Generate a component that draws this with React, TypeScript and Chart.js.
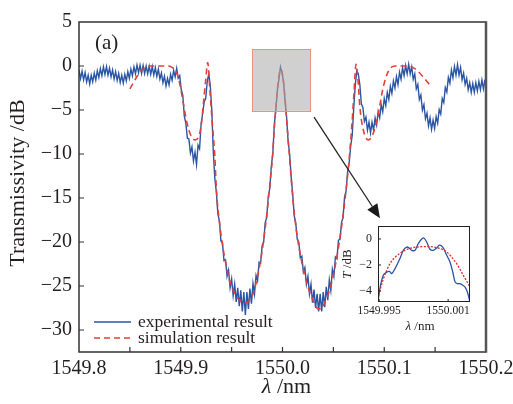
import React, { useEffect, useRef } from "react";
import { Chart, registerables } from "chart.js";

Chart.register(...registerables);

// ---------- data ----------
const expStart = 1549.8;
const expStep = 0.0015;
const experimental = [
  -0.45, -1.43, -0.6, -1.58, -0.75, -1.8, -1.05, -2.03, -1.05, -1.8, -0.8, -1.6,
  -0.55, -1.3, -0.3, -1.1, -0.1, -0.96, -0.07, -1.04, -0.25, -1.23, -0.45, -1.48,
  -0.65, -1.63, -0.85, -1.88, -1.05, -1.95, -0.95, -1.7, -0.65, -1.4, -0.35, -1.1,
  -0.1, -0.89, 0.1, -0.76, 0.1, -0.84, 0.05, -0.86, 0.0, -0.9, -0.03, -0.95,
  -0.05, -1.03, -0.2, -1.18, -0.35, -1.48, -0.8, -1.9, -1.15, -2.28, -1.4, -2.15,
  -0.95, -1.63, -0.5, -1.23, -0.25, -1.38, -1.1, -2.7, -3.3, -5.7, -6.5, -8.2,
  -8.3, -9.9, -9.2, -10.8, -9.8, -11.2, -9.0, -9.4, -6.6, -5.4, -4.1, -3.7,
  -1.8, -0.9, -2.2, -5.0, -9.8, -12.8, -14.3, -16.8, -17.6, -19.9, -20.1, -22.1,
  -22.0, -23.9, -23.2, -25.2, -24.2, -26.1, -24.8, -26.8, -25.2, -27.3, -25.5, -27.9,
  -25.7, -28.3, -25.7, -27.6, -25.3, -27.0, -24.7, -25.9, -23.8, -24.4, -22.3, -22.4,
  -20.4, -20.0, -17.8, -17.2, -14.8, -13.9, -11.4, -9.9, -6.6, -4.9, -2.7, -1.5,
  -0.1, -0.75, -1.8, -3.9, -5.8, -8.5, -10.0, -12.6, -14.5, -17.0, -17.8, -19.7,
  -20.0, -21.8, -21.6, -23.4, -22.9, -24.8, -23.9, -25.9, -24.8, -26.9, -25.4, -27.5,
  -25.9, -27.9, -25.9, -27.9, -25.7, -27.4, -25.1, -26.6, -24.3, -25.5, -23.1, -23.9,
  -21.7, -21.9, -19.8, -19.7, -17.8, -17.2, -14.9, -14.2, -12.0, -11.0, -9.1, -7.9,
  -4.8, -2.2, -0.5, -0.9, -2.1, -4.3, -4.7, -6.3, -5.8, -7.3, -6.4, -7.6,
  -6.4, -7.3, -5.9, -6.7, -5.2, -5.9, -4.4, -5.2, -3.7, -4.5, -3.0, -3.8,
  -2.3, -3.1, -1.7, -2.5, -1.2, -2.1, -0.7, -1.5, -0.2, -1.1, 0.05, -0.9,
  0.2, -0.9, -0.1, -1.5, -0.9, -2.6, -2.1, -3.8, -3.3, -5.0, -4.4, -6.0,
  -5.35, -6.8, -5.9, -7.2, -6.15, -7.1, -5.75, -6.5, -4.95, -5.45, -3.7, -4.15,
  -2.45, -2.95, -1.3, -1.95, -0.45, -1.33, -0.05, -1.03, 0.15, -1.03, -0.15, -1.55,
  -0.8, -2.1, -1.4, -2.7, -1.9, -3.0, -2.0, -2.98, -1.9, -2.83, -1.75, -2.68,
  -1.6, -2.6, -1.55,
];

const simX = [
  1549.85, 1549.854, 1549.858, 1549.862, 1549.866, 1549.87, 1549.88, 1549.888,
  1549.892, 1549.896, 1549.899, 1549.902, 1549.906, 1549.91, 1549.914, 1549.917,
  1549.92, 1549.922, 1549.9245, 1549.9265, 1549.9285, 1549.931, 1549.9335, 1549.935,
  1549.9386, 1549.9435, 1549.948, 1549.952, 1549.956, 1549.962, 1549.966, 1549.97,
  1549.974, 1549.978, 1549.981, 1549.985, 1549.988, 1549.99, 1549.992, 1549.994,
  1549.996, 1549.998, 1550.0, 1550.002, 1550.004, 1550.007, 1550.0106, 1550.014,
  1550.019, 1550.024, 1550.03, 1550.035, 1550.038, 1550.041, 1550.0467, 1550.053,
  1550.058, 1550.0614, 1550.0647, 1550.068, 1550.0703, 1550.0722, 1550.0745, 1550.076,
  1550.0795, 1550.0843, 1550.089, 1550.0942, 1550.099, 1550.104, 1550.1106, 1550.122,
  1550.13, 1550.138, 1550.1465,
];
const simY = [
  -2.6, -1.8, -1.0, -0.4, -0.1, 0.0, 0.0, 0.0,
  -0.2, -0.8, -2.0, -3.9, -6.4, -7.9, -8.4, -8.2,
  -6.8, -4.6, -1.6, 0.4, -2.5, -6.5, -10.3, -14.0,
  -18.3, -22.0, -24.4, -25.6, -26.4, -26.9, -26.8, -26.2,
  -24.7, -22.4, -20.2, -16.4, -13.0, -10.6, -7.0, -4.0,
  -1.6, -0.4, -0.9, -3.0, -6.0, -10.5, -15.6, -19.0,
  -22.3, -24.7, -26.6, -27.6, -27.6, -27.0, -25.3, -22.0,
  -18.3, -15.2, -11.6, -7.0, -3.0, 0.2, -2.0, -4.6,
  -7.3, -8.4, -7.7, -5.4, -2.4, -0.6, 0.0, 0.0,
  -0.3, -1.2, -2.4,
];

const insetExpX = [
  1549.9949, 1549.99507, 1549.99536, 1549.99566, 1549.9959, 1549.99609, 1549.99638,
  1549.99681, 1549.9971, 1549.9974, 1549.99762, 1549.99783, 1549.99812, 1549.9984,
  1549.99884, 1549.99913, 1549.99942, 1549.99971, 1550.0, 1550.00023, 1550.00053,
  1550.00081, 1550.00116, 1550.0014, 1550.0016, 1550.0018, 1550.00203, 1550.00227,
  1550.00247, 1550.00267, 1550.0029,
];
const insetExpY = [
  -4.85, -3.8, -2.8, -2.55, -2.5, -2.67, -2.28,
  -1.5, -0.87, -0.62, -0.7, -0.87, -0.87, -0.36,
  0.08, -0.23, -0.79, -0.87, -0.7, -0.48, -0.62,
  -1.13, -1.77, -2.54, -3.3, -3.44, -3.44, -3.56,
  -3.7, -4.08, -4.85,
];
const insetSimX = [
  1549.99487, 1549.99536, 1549.99594, 1549.99681, 1549.99768, 1549.99855,
  1549.99928, 1550.0, 1550.00087, 1550.00174, 1550.00232, 1550.0029,
];
const insetSimY = [-4.6, -3.1, -1.9, -1.1, -0.72, -0.6, -0.58, -0.66, -1.0, -1.9, -2.8, -3.7];

const xTicks = [1549.8, 1549.9, 1550.0, 1550.1, 1550.2];
const xMinorTicks = [1549.85, 1549.95, 1550.05, 1550.15];
const yTicks = [-30, -25, -20, -15, -10, -5, 0, 5];
const insetXTicks = [1549.995, 1550.001];
const insetYTicks = [-4, -2, 0];
const zoomBoxX = [1549.97, 1550.027];
const zoomBoxY = [-5.1, 1.9];
const arrowFrom = [1550.031, -5.8];
const arrowTo = [1550.0958, -17.3];

const seriesLabels = ["experimental result", "simulation result"];

// ---------- style ----------
const FONT = "'Liberation Serif', 'Times New Roman', serif";
const TEXT = "#231f20";
const BLUE = "#2a56a6";
const RED = "#e3403a";

function minusFmt(v: number, digits?: number) {
  const s = digits != null ? Math.abs(v).toFixed(digits) : String(Math.abs(v));
  return v < 0 ? "\u2212" + s : s;
}

const mainDecor = {
  id: "mainDecor",
  afterDatasetsDraw(chart: any) {
    const { ctx, chartArea: a, scales } = chart;
    const xs = scales.x;
    const ys = scales.y;
    ctx.save();
    // zoom box
    const rx0 = xs.getPixelForValue(zoomBoxX[0]);
    const rx1 = xs.getPixelForValue(zoomBoxX[1]);
    const ry0 = ys.getPixelForValue(zoomBoxY[1]);
    const ry1 = ys.getPixelForValue(zoomBoxY[0]);
    ctx.fillStyle = "rgba(170,170,170,0.55)";
    ctx.fillRect(rx0, ry0, rx1 - rx0, ry1 - ry0);
    ctx.strokeStyle = "#e8937f";
    ctx.lineWidth = 1;
    ctx.strokeRect(Math.round(rx0) + 0.5, Math.round(ry0) + 0.5, Math.round(rx1 - rx0), Math.round(ry1 - ry0));

    // arrow
    const ax0 = xs.getPixelForValue(arrowFrom[0]);
    const ay0 = ys.getPixelForValue(arrowFrom[1]);
    const ax1 = xs.getPixelForValue(arrowTo[0]);
    const ay1 = ys.getPixelForValue(arrowTo[1]);
    const ang = Math.atan2(ay1 - ay0, ax1 - ax0);
    const headLen = 14;
    const headW = 6;
    const bx = ax1 - headLen * Math.cos(ang);
    const by = ay1 - headLen * Math.sin(ang);
    ctx.strokeStyle = "#222";
    ctx.lineWidth = 1.3;
    ctx.beginPath();
    ctx.moveTo(ax0, ay0);
    ctx.lineTo(bx, by);
    ctx.stroke();
    ctx.fillStyle = "#1a1a1a";
    ctx.beginPath();
    ctx.moveTo(ax1, ay1);
    ctx.lineTo(bx + headW * Math.sin(ang), by - headW * Math.cos(ang));
    ctx.lineTo(bx - headW * Math.sin(ang), by + headW * Math.cos(ang));
    ctx.closePath();
    ctx.fill();

    // frame
    ctx.strokeStyle = "#333";
    ctx.lineWidth = 1.5;
    ctx.beginPath();
    ctx.moveTo(a.right, a.top);
    ctx.lineTo(a.left, a.top);
    ctx.lineTo(a.left, a.bottom);
    ctx.lineTo(a.right, a.bottom);
    ctx.stroke();
    ctx.strokeStyle = "#555";
    ctx.lineWidth = 2.5;
    ctx.beginPath();
    ctx.moveTo(a.right, a.top - 0.75);
    ctx.lineTo(a.right, a.bottom + 0.75);
    ctx.stroke();

    // inward ticks
    ctx.strokeStyle = "#333";
    ctx.lineWidth = 1.2;
    ctx.beginPath();
    [...xTicks, ...xMinorTicks].forEach((v) => {
      const px = xs.getPixelForValue(v);
      if (px <= a.left + 1 || px >= a.right - 1) return;
      ctx.moveTo(px, a.bottom);
      ctx.lineTo(px, a.bottom - 5);
    });
    yTicks.forEach((v) => {
      const py = ys.getPixelForValue(v);
      if (py <= a.top + 1 || py >= a.bottom - 1) return;
      ctx.moveTo(a.left, py);
      ctx.lineTo(a.left + 5, py);
    });
    ctx.stroke();

    // panel label
    ctx.fillStyle = TEXT;
    ctx.font = `21px ${FONT}`;
    ctx.textAlign = "left";
    ctx.textBaseline = "middle";
    ctx.fillText("(a)", a.left + 16, a.top + 21);

    // y title
    ctx.save();
    ctx.translate(a.left - 61, (a.top + a.bottom) / 2 - 4);
    ctx.rotate(-Math.PI / 2);
    ctx.textAlign = "center";
    ctx.textBaseline = "middle";
    ctx.font = `22px ${FONT}`;
    ctx.fillText("Transmissivity /dB", 0, 0);
    ctx.restore();

    // x title with italic lambda
    ctx.textBaseline = "middle";
    ctx.textAlign = "left";
    ctx.font = `italic 22px ${FONT}`;
    const w1 = ctx.measureText("\u03bb").width;
    ctx.font = `22px ${FONT}`;
    const w2 = ctx.measureText(" /nm").width;
    const cx = (a.left + a.right) / 2 + 4;
    const cy = a.bottom + 35;
    ctx.font = `italic 22px ${FONT}`;
    ctx.fillText("\u03bb", cx - (w1 + w2) / 2, cy);
    ctx.font = `22px ${FONT}`;
    ctx.fillText(" /nm", cx - (w1 + w2) / 2 + w1, cy);

    // legend
    const ds = chart.data.datasets;
    const lx = a.left + 15;
    const rows = [a.bottom - 30, a.bottom - 14];
    const order = [1, 0];
    order.forEach((di, r) => {
      const d = ds[di];
      const y = rows[r];
      ctx.strokeStyle = d.borderColor;
      ctx.lineWidth = d.borderWidth;
      ctx.setLineDash(d.borderDash || []);
      ctx.beginPath();
      ctx.moveTo(lx, y);
      ctx.lineTo(lx + 37, y);
      ctx.stroke();
      ctx.setLineDash([]);
      ctx.fillStyle = TEXT;
      ctx.font = `17.5px ${FONT}`;
      ctx.textAlign = "left";
      ctx.textBaseline = "middle";
      ctx.fillText(d.label, lx + 44, y);
    });
    ctx.restore();
  },
};

const insetDecor = {
  id: "insetDecor",
  afterDatasetsDraw(chart: any) {
    const { ctx, chartArea: a, scales } = chart;
    const xs = scales.x;
    const ys = scales.y;
    ctx.save();
    ctx.strokeStyle = "#222";
    ctx.lineWidth = 1;
    ctx.strokeRect(a.left + 0.5, a.top + 0.5, a.right - a.left - 1, a.bottom - a.top - 1);
    ctx.beginPath();
    insetXTicks.forEach((v) => {
      const px = xs.getPixelForValue(v);
      ctx.moveTo(px, a.bottom);
      ctx.lineTo(px, a.bottom - 3);
    });
    insetYTicks.forEach((v) => {
      const py = ys.getPixelForValue(v);
      ctx.moveTo(a.left, py);
      ctx.lineTo(a.left + 3, py);
    });
    ctx.stroke();

    ctx.fillStyle = TEXT;
    // y title
    ctx.save();
    ctx.translate(a.left - 30, (a.top + a.bottom) / 2);
    ctx.rotate(-Math.PI / 2);
    ctx.textBaseline = "middle";
    ctx.textAlign = "left";
    ctx.font = `italic 13px ${FONT}`;
    const t1 = ctx.measureText("T").width;
    ctx.font = `13px ${FONT}`;
    const t2 = ctx.measureText(" /dB").width;
    ctx.font = `italic 13px ${FONT}`;
    ctx.fillText("T", -(t1 + t2) / 2, 0);
    ctx.font = `13px ${FONT}`;
    ctx.fillText(" /dB", -(t1 + t2) / 2 + t1, 0);
    ctx.restore();

    // x title
    ctx.textBaseline = "middle";
    ctx.textAlign = "left";
    ctx.font = `italic 13px ${FONT}`;
    const l1 = ctx.measureText("\u03bb").width;
    ctx.font = `13px ${FONT}`;
    const l2 = ctx.measureText(" /nm").width;
    const cx = (a.left + a.right) / 2 - 4;
    const cy = a.bottom + 25;
    ctx.font = `italic 13px ${FONT}`;
    ctx.fillText("\u03bb", cx - (l1 + l2) / 2, cy);
    ctx.font = `13px ${FONT}`;
    ctx.fillText(" /nm", cx - (l1 + l2) / 2 + l1, cy);
    ctx.restore();
  },
};

export default function App() {
  const mainRef = useRef<HTMLCanvasElement>(null);
  const insetRef = useRef<HTMLCanvasElement>(null);

  useEffect(() => {
    const expData = experimental.map((y, i) => ({ x: +(expStart + i * expStep).toFixed(4), y }));
    const simData = simX.map((x, i) => ({ x, y: simY[i] }));

    const main = new Chart(mainRef.current as HTMLCanvasElement, {
      type: "line",
      data: {
        datasets: [
          {
            label: seriesLabels[1],
            data: simData,
            borderColor: RED,
            borderWidth: 1.6,
            borderDash: [6, 4],
            pointRadius: 0,
            cubicInterpolationMode: "monotone",
            order: 0,
          } as any,
          {
            label: seriesLabels[0],
            data: expData,
            borderColor: BLUE,
            borderWidth: 1.4,
            pointRadius: 0,
            tension: 0,
            order: 1,
          } as any,
        ],
      },
      options: {
        responsive: false,
        animation: false,
        events: [],
        layout: { padding: { left: 0, top: 22, right: 27, bottom: 0 } },
        plugins: { legend: { display: false }, tooltip: { enabled: false }, title: { display: false } },
        scales: {
          x: {
            type: "linear",
            min: 1549.8,
            max: 1550.2,
            grid: { display: false, drawTicks: false },
            border: { display: false },
            afterBuildTicks: (s: any) => {
              s.ticks = xTicks.map((v) => ({ value: v }));
            },
            afterFit: (s: any) => {
              s.height = 52;
              s.paddingLeft = 0;
              s.paddingRight = 0;
            },
            ticks: {
              autoSkip: false,
              maxRotation: 0,
              padding: 5,
              color: TEXT,
              font: { family: FONT, size: 20 },
              callback: (v: any) => Number(v).toFixed(1),
            },
          },
          y: {
            type: "linear",
            min: -32.5,
            max: 5,
            grid: { display: false, drawTicks: false },
            border: { display: false },
            afterBuildTicks: (s: any) => {
              s.ticks = yTicks.map((v) => ({ value: v }));
            },
            afterFit: (s: any) => {
              s.width = 79;
              s.paddingTop = 0;
              s.paddingBottom = 0;
            },
            ticks: {
              autoSkip: false,
              padding: 7,
              color: TEXT,
              font: { family: FONT, size: 20 },
              callback: (v: any) => minusFmt(Number(v)),
            },
          },
        },
      },
      plugins: [mainDecor],
    } as any);

    const inset = new Chart(insetRef.current as HTMLCanvasElement, {
      type: "line",
      data: {
        datasets: [
          {
            label: seriesLabels[1],
            data: insetSimX.map((x, i) => ({ x, y: insetSimY[i] })),
            borderColor: "#e02a2a",
            borderWidth: 1.3,
            borderDash: [2, 1.5],
            pointRadius: 0,
            cubicInterpolationMode: "monotone",
            order: 0,
          } as any,
          {
            label: seriesLabels[0],
            data: insetExpX.map((x, i) => ({ x, y: insetExpY[i] })),
            borderColor: BLUE,
            borderWidth: 1.3,
            pointRadius: 0,
            tension: 0.3,
            order: 1,
          } as any,
        ],
      },
      options: {
        responsive: false,
        animation: false,
        events: [],
        layout: { padding: { left: 0, top: 11, right: 10, bottom: 0 } },
        plugins: { legend: { display: false }, tooltip: { enabled: false }, title: { display: false } },
        scales: {
          x: {
            type: "linear",
            min: 1549.9949,
            max: 1550.0029,
            grid: { display: false, drawTicks: false },
            border: { display: false },
            afterBuildTicks: (s: any) => {
              s.ticks = insetXTicks.map((v) => ({ value: v }));
            },
            afterFit: (s: any) => {
              s.height = 38;
              s.paddingLeft = 0;
              s.paddingRight = 0;
            },
            ticks: {
              autoSkip: false,
              maxRotation: 0,
              padding: 2,
              color: TEXT,
              font: { family: FONT, size: 11.5 },
              callback: (v: any) => Number(v).toFixed(3),
            },
          },
          y: {
            type: "linear",
            min: -4.85,
            max: 1,
            grid: { display: false, drawTicks: false },
            border: { display: false },
            afterBuildTicks: (s: any) => {
              s.ticks = insetYTicks.map((v) => ({ value: v }));
            },
            afterFit: (s: any) => {
              s.width = 48;
              s.paddingTop = 0;
              s.paddingBottom = 0;
            },
            ticks: {
              autoSkip: false,
              padding: 6,
              color: TEXT,
              font: { family: FONT, size: 12 },
              callback: (v: any) => minusFmt(Number(v)),
            },
          },
        },
      },
      plugins: [insetDecor],
    } as any);

    return () => {
      main.destroy();
      inset.destroy();
    };
  }, []);

  return (
    <div style={{ position: "absolute", left: 0, top: 0, width: 513, height: 404, background: "#fff" }}>
      <canvas ref={mainRef} width={513} height={404} style={{ position: "absolute", left: 0, top: 0 }} />
      <canvas ref={insetRef} width={150} height={125} style={{ position: "absolute", left: 330, top: 215 }} />
    </div>
  );
}
